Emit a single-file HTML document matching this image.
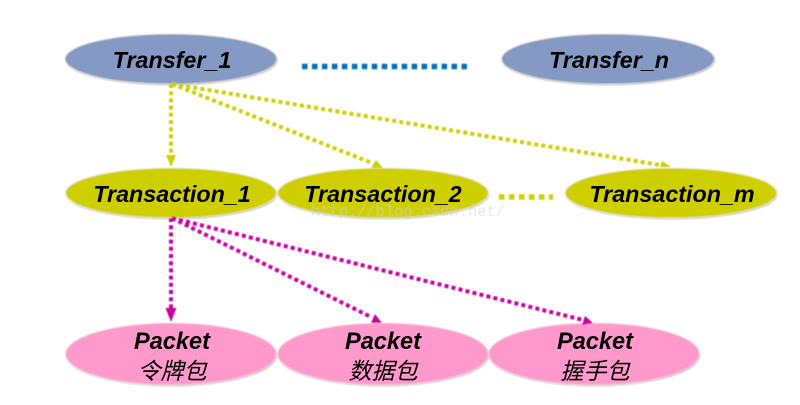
<!DOCTYPE html>
<html>
<head>
<meta charset="utf-8">
<style>
html,body{margin:0;padding:0;background:#fff;width:800px;height:405px;overflow:hidden}
svg{display:block}
text{font-family:"Liberation Sans","Noto Sans CJK SC",sans-serif;font-style:italic;font-weight:bold;fill:#000;text-anchor:middle}
.n{font-size:23.300px}
.p{font-size:23.600px}
.c{font-size:23px;font-weight:normal;font-family:"Noto Sans CJK SC","WenQuanYi Zen Hei",sans-serif}
.w{font-family:"Liberation Mono",monospace;font-style:normal;font-weight:normal;font-size:15.400px;fill:#cfcfcf;opacity:.55;text-anchor:start}
</style>
</head>
<body>
<svg width="800" height="405" viewBox="0 0 800 405" xmlns="http://www.w3.org/2000/svg">
<defs>
<filter id="b" x="-5%" y="-10%" width="110%" height="125%"><feGaussianBlur stdDeviation="0.6"/></filter>
<filter id="s" x="-2%" y="-2%" width="104%" height="104%"><feGaussianBlur stdDeviation="0.45"/></filter>
<filter id="t" x="-2%" y="-2%" width="104%" height="104%"><feGaussianBlur stdDeviation="0.2"/></filter>
</defs>
<g filter="url(#s)">
<!-- shadows -->
<g fill="#6b6458" opacity=".7" filter="url(#b)">
<ellipse cx="171.500" cy="60" rx="106" ry="25"/>
<ellipse cx="608.500" cy="60" rx="106.500" ry="25"/>
<ellipse cx="171.500" cy="194" rx="105.500" ry="25"/>
<ellipse cx="383.500" cy="194" rx="105.500" ry="25"/>
<ellipse cx="671.500" cy="194" rx="106" ry="25"/>
<ellipse cx="171.500" cy="355" rx="105.500" ry="31"/>
<ellipse cx="383.500" cy="355" rx="105.500" ry="31"/>
<ellipse cx="594.500" cy="355" rx="105.500" ry="31"/>
</g>

<!-- ellipses -->
<g fill="#8499c3" stroke="#e6e0da" stroke-width="1">
<ellipse cx="171" cy="59" rx="106" ry="25"/>
<ellipse cx="608" cy="59" rx="106.500" ry="25"/>
</g>
<g fill="#cfcf00" stroke="#f0e8d8" stroke-width="1">
<ellipse cx="171" cy="193" rx="105.500" ry="25"/>
<ellipse cx="383" cy="193" rx="105.500" ry="25"/>
<ellipse cx="671" cy="193" rx="106" ry="25"/>
</g>
<g fill="#ff99cc" stroke="#f0e0e0" stroke-width="1">
<ellipse cx="171" cy="354" rx="105.500" ry="31"/>
<ellipse cx="383" cy="354" rx="105.500" ry="31"/>
<ellipse cx="594" cy="354" rx="105.500" ry="31"/>
</g>

<!-- dotted ellipsis lines -->
<line x1="302" y1="66.500" x2="467" y2="66.500" stroke="#0070c0" stroke-width="5.500" stroke-dasharray="5.500 4.470"/>
<line x1="499" y1="197" x2="553" y2="197" stroke="#cfcf00" stroke-width="5.500" stroke-dasharray="5.500 4.500"/>

<!-- yellow connectors -->
<g fill="none" stroke="#cfcf00" stroke-width="4" stroke-dasharray="4 3.200">
<line x1="171" y1="84" x2="171" y2="156"/>
<line x1="172" y1="84" x2="372" y2="163"/>
<line x1="172" y1="84" x2="660" y2="165"/>
</g>
<g fill="#cfcf00">
<polygon points="166,155 176,155 171,167"/>
<polygon points="371,168 376,160 383,168"/>
<polygon points="660,167 662,161 671,167"/>
</g>

<!-- magenta connectors -->
<g fill="none" stroke="#c800a0" stroke-width="4" stroke-dasharray="4 3.200">
<line x1="171" y1="218" x2="171" y2="308"/>
<line x1="172" y1="218" x2="371" y2="317"/>
<line x1="172" y1="218" x2="583" y2="320"/>
</g>
<g fill="#c800a0">
<polygon points="165.500,308 176.500,308 171,322"/>
<polygon points="371,323 375,314 382,323"/>
<polygon points="585,316 593,323 582,325"/>
</g>

<!-- watermark -->
<text class="w" x="311" y="216">http://blog.csdn.net/</text>
</g>

<!-- labels -->
<g filter="url(#t)">
<text class="n" x="172" y="68">Transfer_1</text>
<text class="n" x="609" y="68">Transfer_n</text>
<text class="n" x="172" y="202">Transaction_1</text>
<text class="n" x="383" y="202">Transaction_2</text>
<text class="n" x="672" y="202">Transaction_m</text>

<text class="p" x="172" y="349">Packet</text>
<text class="p" x="383" y="349">Packet</text>
<text class="p" x="595" y="349">Packet</text>
<text class="c" x="172" y="379">令牌包</text>
<text class="c" x="383" y="379">数据包</text>
<text class="c" x="595" y="379">握手包</text>
</g>
</svg>
</body>
</html>
